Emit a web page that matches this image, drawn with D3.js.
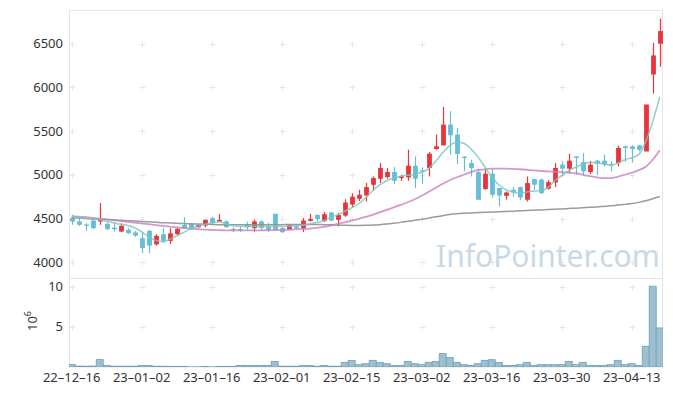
<!DOCTYPE html>
<html><head><meta charset="utf-8">
<script src="https://cdn.jsdelivr.net/npm/d3@7"></script>
<style>html,body{margin:0;padding:0;background:#fff;}svg{display:block;font-family:"Noto Sans",sans-serif;}</style>
</head><body><svg id="c" width="673" height="396"></svg>
<script>
const dates = ["2022-12-16","2022-12-19","2022-12-20","2022-12-21","2022-12-22","2022-12-23","2022-12-26","2022-12-27","2022-12-28","2022-12-29",
"2023-01-02","2023-01-03","2023-01-04","2023-01-05","2023-01-06","2023-01-09","2023-01-10","2023-01-11","2023-01-12","2023-01-13",
"2023-01-16","2023-01-17","2023-01-18","2023-01-19","2023-01-20","2023-01-25","2023-01-26","2023-01-27","2023-01-30","2023-01-31",
"2023-02-01","2023-02-02","2023-02-03","2023-02-06","2023-02-07","2023-02-08","2023-02-09","2023-02-10","2023-02-13","2023-02-14",
"2023-02-15","2023-02-16","2023-02-17","2023-02-20","2023-02-21","2023-02-22","2023-02-23","2023-02-24","2023-02-27","2023-02-28",
"2023-03-02","2023-03-03","2023-03-06","2023-03-07","2023-03-08","2023-03-09","2023-03-10","2023-03-13","2023-03-14","2023-03-15",
"2023-03-16","2023-03-17","2023-03-20","2023-03-21","2023-03-22","2023-03-23","2023-03-24","2023-03-27","2023-03-28","2023-03-29",
"2023-03-30","2023-03-31","2023-04-03","2023-04-04","2023-04-05","2023-04-06","2023-04-07","2023-04-10","2023-04-11","2023-04-12",
"2023-04-13","2023-04-14","2023-04-17","2023-04-18","2023-04-19"];
const open  = [4505,4466,4431,4477,4466,4439,4397,4351,4370,4340, 4275,4359,4204,4321,4244,4319,4428,4439,4401,4420, 4505,4466,4466,4382,4380,4433,4390,4466,4408,4554, 4390,4370,4410,4388,4473,4542,4473,4569,4485,4534, 4660,4726,4764,4886,4955,4975,5032,4963,4970,5104, 5051,5078,5296,5337,5575,5460,5208,5135,5032,4837, 5013,4849,4760,4830,4860,4715,4952,4944,4841,4913, 5116,5070,5211,5147,5032,5162,5162,5125,5135,5326, 5326,5337,5268,6148,6500];
const high  = [4542,4523,4447,4505,4677,4454,4459,4447,4390,4360, 4351,4370,4320,4395,4390,4395,4515,4445,4432,4490, 4520,4550,4480,4400,4405,4465,4490,4480,4450,4556, 4400,4430,4420,4505,4555,4545,4575,4575,4565,4720, 4790,4830,4906,4982,5135,5078,5089,5001,5288,5211, 5085,5261,5460,5777,5727,5537,5215,5173,5070,5059, 5070,4849,4810,4860,4865,4982,4955,4960,4940,5135, 5154,5242,5215,5250,5160,5173,5231,5155,5334,5335, 5340,5345,5804,6511,6787];
const low   = [4428,4416,4362,4378,4428,4370,4351,4345,4325,4290, 4103,4103,4190,4218,4210,4310,4385,4375,4395,4400, 4440,4460,4395,4345,4345,4358,4350,4360,4345,4365, 4335,4365,4380,4345,4465,4470,4460,4470,4410,4520, 4630,4700,4695,4818,4906,4955,4894,4932,4932,4848, 4894,4982,5287,5337,5231,5124,5040,4982,4715,4830, 4740,4638,4715,4752,4710,4695,4830,4780,4830,4860, 4993,5020,5000,5001,5010,5000,5097,5040,5097,5150, 5140,5270,5268,5930,6236];
const close = [4466,4428,4416,4390,4493,4378,4378,4416,4333,4305, 4161,4190,4302,4244,4330,4382,4390,4378,4428,4485, 4447,4485,4401,4367,4365,4400,4466,4392,4370,4370, 4344,4424,4385,4477,4496,4493,4548,4477,4540,4683, 4750,4772,4860,4963,5078,5032,4932,4982,5104,4955, 5035,5242,5326,5575,5452,5239,5193,5078,4715,5013, 4772,4764,4798,4798,4741,4906,4887,4791,4917,5078, 5070,5162,5193,5039,5116,5127,5116,5110,5307,5307, 5296,5288,5804,6366,6645];
const volume = [0.30,0.12,0.10,0.12,0.92,0.20,0.10,0.10,0.10,0.10, 0.20,0.20,0.10,0.10,0.08,0.08,0.08,0.02,0.02,0.08, 0.02,0.08,0.08,0.08,0.20,0.20,0.20,0.20,0.20,0.70, 0.10,0.10,0.10,0.20,0.20,0.10,0.20,0.10,0.10,0.58, 0.83,0.29,0.41,0.83,0.58,0.41,0.20,0.20,0.70,0.41, 0.29,0.58,0.70,1.66,1.17,0.58,0.29,0.20,0.41,0.83, 0.91,0.58,0.20,0.20,0.29,0.58,0.20,0.29,0.29,0.29, 0.29,0.70,0.29,0.58,0.20,0.20,0.20,0.29,0.83,0.29, 0.41,0.20,2.58,10.05,4.86];
const ma5  = [4523,4514,4502,4493,4485,4468,4451,4433,4420,4393, 4347,4290,4250,4236,4261,4302,4342,4382,4411,4433, 4451,4462,4439,4416,4411,4408,4408,4408,4408,4408, 4408,4411,4416,4422,4439,4454,4474,4514,4542,4583, 4623,4669,4737,4818,4886,4932,4967,4984,4995,5007, 5030,5070,5156,5253,5334,5372,5362,5299,5208,5093, 4978,4886,4829,4806,4791,4803,4814,4821,4852,4932, 4990,5047,5087,5122,5141,5139,5127,5110,5133,5173, 5196,5231,5380,5609,5890];
const ma20 = [4528,4522,4515,4508,4499,4490,4481,4471,4462,4453, 4444,4435,4425,4416,4407,4399,4391,4384,4378,4373, 4369,4367,4365,4365,4365,4365,4365,4365,4367,4368, 4370,4373,4376,4380,4385,4393,4405,4420,4439,4456, 4476,4497,4520,4542,4571,4600,4628,4657,4686,4720, 4760,4806,4852,4898,4938,4972,5001,5030,5053,5064, 5070,5070,5070,5068,5064,5058,5050,5044,5039,5036, 5030,5024,5018,5001,4984,4972,4963,4963,4978,5001, 5024,5053,5093,5173,5282];
const ma60 = [4508,4505,4500,4497,4493,4489,4485,4481,4476,4471, 4467,4462,4458,4453,4450,4446,4443,4439,4437,4435, 4432,4430,4429,4428,4428,4428,4428,4428,4428,4429, 4430,4431,4431,4432,4432,4431,4430,4428,4425,4423, 4421,4421,4422,4425,4430,4437,4446,4456,4468,4479, 4491,4505,4520,4533,4545,4554,4560,4564,4568,4571, 4575,4577,4580,4584,4588,4592,4595,4599,4603,4607, 4610,4615,4619,4624,4628,4633,4639,4645,4654,4662, 4671,4685,4703,4726,4752];
const priceTicks = [4000,4500,5000,5500,6000,6500];
const volTicks = [5,10];
const xTickIdx = [0,10,20,30,40,50,60,70,80];

const svg = d3.select("#c");
const L = 69, R = 663, T1 = 10, B1 = 278, T2 = 278, B2 = 367;
const x = d3.scaleLinear().domain([-0.386, 84.47]).range([L, R]);
const yP = d3.scaleLinear().domain([3831, 6886]).range([B1 - 1, T1]);
const yV = d3.scaleLinear().domain([0, 11.07]).range([B2, T2]);
const fmt = d3.timeFormat("%y-%m-%d"), parse = d3.timeParse("%Y-%m-%d");
const UP = "#e8353b", DOWN = "#67bdd8";

const defs = svg.append("defs");
defs.append("clipPath").attr("id","cp1").append("rect").attr("x",L).attr("y",T1).attr("width",R-L).attr("height",B1-T1);
defs.append("clipPath").attr("id","cp2").append("rect").attr("x",L).attr("y",T2).attr("width",R-L).attr("height",B2-T2);

svg.append("rect").attr("x",L+0.5).attr("y",T1+0.5).attr("width",R-L-1).attr("height",B1-T1).attr("fill","none").attr("stroke","#e4e4e4");
svg.append("rect").attr("x",L+0.5).attr("y",T2+0.5).attr("width",R-L-1).attr("height",B2-T2-0.5).attr("fill","none").attr("stroke","#e4e4e4");

function crosses(g, ys, yS){
  xTickIdx.forEach(i=>ys.forEach(v=>{
    const cx = Math.round(x(i))+0.5, cy = Math.round(yS(v))+0.5;
    g.append("path").attr("d",`M${cx-3},${cy}H${cx+3}M${cx},${cy-3}V${cy+3}`).attr("stroke","#e6e6e6").attr("stroke-width",1);
  }));
}
crosses(svg.append("g"), priceTicks, yP);
crosses(svg.append("g"), volTicks, yV);

svg.append("text").attr("x",436).attr("y",267).attr("font-size",30).attr("fill","#c8d9e5").attr("font-family","'Noto Sans',sans-serif").text("InfoPointer.com");

const gc = svg.append("g").attr("clip-path","url(#cp1)");
const idx = d3.range(dates.length);
gc.selectAll("line.w").data(idx).join("line")
  .attr("x1",i=>Math.round(x(i))+0.5).attr("x2",i=>Math.round(x(i))+0.5)
  .attr("y1",i=>yP(high[i])).attr("y2",i=>yP(low[i]))
  .attr("stroke",i=>close[i]>=open[i]?UP:DOWN).attr("stroke-width",1.2);
gc.selectAll("rect.b").data(idx).join("rect")
  .attr("x",i=>Math.round(x(i))+0.5-2.4).attr("width",4.8)
  .attr("y",i=>yP(Math.max(open[i],close[i])))
  .attr("height",i=>Math.max(1.2, Math.abs(yP(open[i])-yP(close[i]))))
  .attr("fill",i=>close[i]>=open[i]?UP:DOWN);

const line = d3.line().x((d,i)=>x(i)).y(d=>yP(d)).curve(d3.curveMonotoneX);
gc.append("path").attr("d",line(ma60)).attr("fill","none").attr("stroke","#8f8f8f").attr("stroke-width",1.5).attr("opacity",0.9);
gc.append("path").attr("d",line(ma20)).attr("fill","none").attr("stroke","#c77fc0").attr("stroke-width",1.8).attr("opacity",0.8);
gc.append("path").attr("d",line(ma5)).attr("fill","none").attr("stroke","#7cc8bd").attr("stroke-width",1.5).attr("opacity",0.85);

const gv = svg.append("g").attr("clip-path","url(#cp2)");
gv.selectAll("rect").data(idx).join("rect")
  .attr("x",i=>x(i)-3.5).attr("width",7)
  .attr("y",i=>yV(volume[i])).attr("height",i=>B2-yV(volume[i]))
  .attr("fill","#9cc0d1").attr("stroke","#6fa0b6").attr("stroke-width",0.8);

const tcol = "#333";
svg.append("g").selectAll("text").data(priceTicks).join("text")
  .attr("x",63).attr("y",d=>yP(d)).attr("dy","0.35em").attr("text-anchor","end")
  .attr("font-size",13).attr("fill",tcol).text(d=>d);
svg.append("g").selectAll("text").data(volTicks).join("text")
  .attr("x",63).attr("y",d=>yV(d)).attr("dy","0.35em").attr("text-anchor","end")
  .attr("font-size",13).attr("fill",tcol).text(d=>d);
svg.append("g").selectAll("text").data(xTickIdx).join("text")
  .attr("x",i=>x(i)).attr("y",382).attr("text-anchor","middle")
  .attr("font-size",13).attr("fill",tcol).text(i=>fmt(parse(dates[i])).replace(/-/g,"\u2013"));
const vl = svg.append("text").attr("transform","translate(37,321) rotate(-90)").attr("text-anchor","middle")
  .attr("font-size",13).attr("fill",tcol);
vl.append("tspan").text("10");
vl.append("tspan").attr("font-size",9).attr("dy",-6).text("6");
</script></body></html>
